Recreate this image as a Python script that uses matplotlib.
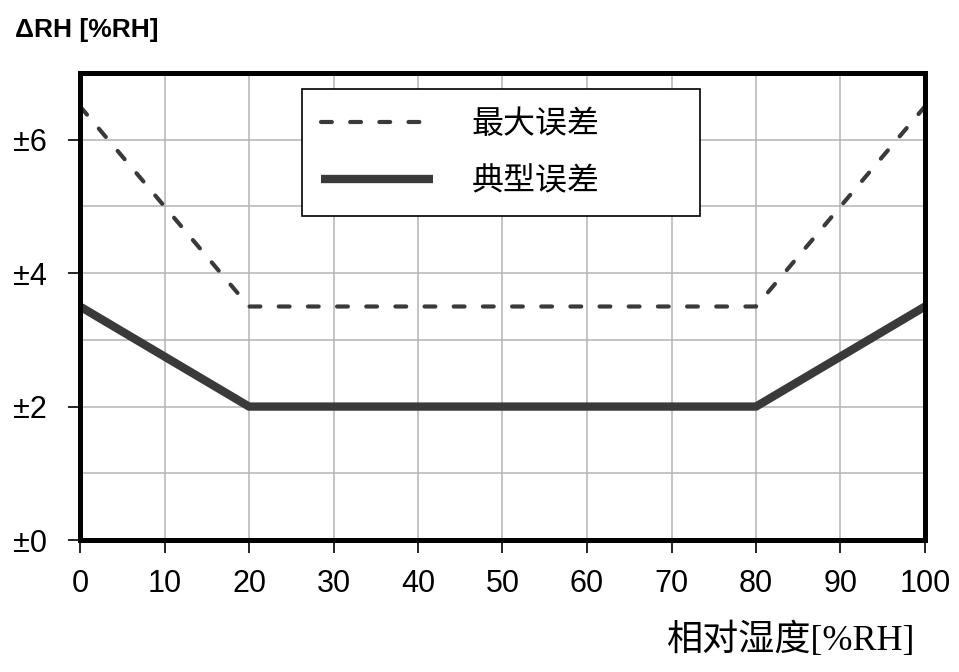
import matplotlib
matplotlib.use("Agg")
import matplotlib.pyplot as plt
from matplotlib.ticker import MultipleLocator

rh = [0, 20, 80, 100]
max_err = [6.5, 3.5, 3.5, 6.5]
typ_err = [3.5, 2.0, 2.0, 3.5]
xticks = [0, 10, 20, 30, 40, 50, 60, 70, 80, 90, 100]
yticks = [0, 2, 4, 6]
ytick_labels = ["±0", "±2", "±4", "±6"]
legend_labels = ["最大误差", "典型误差"]

line_color = "#3a3a3a"
sans = ["Liberation Sans", "Noto Sans CJK SC"]
serif = ["Liberation Serif", "Noto Sans CJK SC"]

fig = plt.figure(figsize=(9.59, 6.72), dpi=100)
ax = fig.add_axes([80/959, 1-540/672, 845/959, 467/672])

ax.plot(rh, max_err, linestyle=(0, (2.6, 4.4)), color=line_color, lw=3,
        label=legend_labels[0], dash_capstyle="round", zorder=3)
ax.plot(rh, typ_err, linestyle="-", color=line_color, lw=6,
        label=legend_labels[1], solid_capstyle="butt", zorder=3)

ax.set_xlim(0, 100)
ax.set_ylim(0, 7)
ax.set_xticks(xticks)
ax.set_xticklabels([str(v) for v in xticks], family=sans, fontsize=22)
ax.set_yticks(yticks)
ax.set_yticklabels(ytick_labels, family=sans, fontsize=22)
ax.yaxis.set_minor_locator(MultipleLocator(1))
ax.tick_params(axis="both", which="major", direction="out", length=9, width=1.2, colors="black")
ax.tick_params(axis="y", which="major", pad=15)
ax.tick_params(axis="x", which="major", pad=12)
ax.tick_params(axis="y", which="minor", length=0)
ax.grid(True, which="both", color="#b4b4b4", lw=1.1, zorder=0)
for s in ax.spines.values():
    s.set_linewidth(3.6)
    s.set_color("black")
    s.set_zorder(4)

leg = ax.legend(loc="upper left", bbox_to_anchor=(0.263, 0.709, 0.471, 0.257), mode="expand",
                prop={"family": ["Noto Sans CJK SC"], "size": 23},
                frameon=True, fancybox=False, edgecolor="black", framealpha=1,
                handlelength=3.5, handletextpad=1.2, borderpad=0.6, labelspacing=0.78,
                borderaxespad=0)
leg.get_frame().set_linewidth(1.2)
leg.set_zorder(5)

fig.text(15/959, 1-30/672, "ΔRH [%RH]", family=sans, fontsize=19, fontweight="bold",
         ha="left", va="center")
fig.text(915/959, 1-640/672, "相对湿度[%RH]", family=serif, fontsize=26,
         ha="right", va="center")

fig.savefig("out.png", dpi=100)
